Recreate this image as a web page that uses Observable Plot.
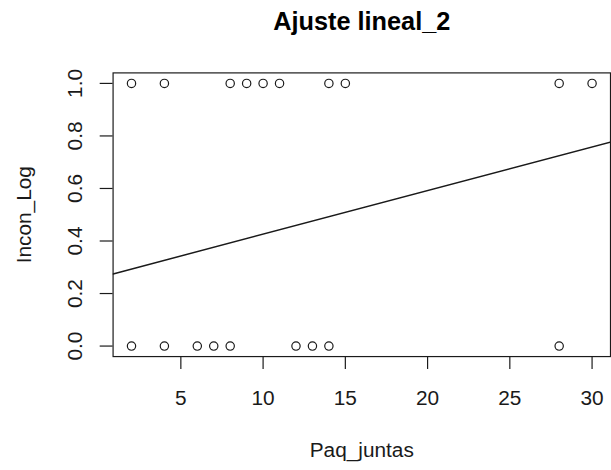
<!DOCTYPE html>
<html>
<head>
<meta charset="utf-8">
<script src="https://cdn.jsdelivr.net/npm/d3@7"></script>
<script src="https://cdn.jsdelivr.net/npm/@observablehq/plot@0.6"></script>
<style>
  html, body { margin: 0; padding: 0; background: #fff; overflow: hidden; }
  #chart { width: 611px; height: 470px; overflow: hidden; }
</style>
</head>
<body>
<div id="chart"></div>
<script>
// Data
const paqJuntas = [2, 4, 8, 9, 10, 11, 14, 15, 28, 30, 2, 4, 6, 7, 8, 12, 13, 14, 28];
const inconLog  = [1, 1, 1, 1, 1, 1, 1, 1, 1, 1, 0, 0, 0, 0, 0, 0, 0, 0, 0];
const fitIntercept = 0.26;
const fitSlope = 0.0166;
const xTicks = [5, 10, 15, 20, 25, 30];
const yTicks = [0, 0.2, 0.4, 0.6, 0.8, 1.0];
const yTickLabels = ["0.0", "0.2", "0.4", "0.6", "0.8", "1.0"];
const titleText = "Ajuste lineal_2";
const xLabel = "Paq_juntas";
const yLabel = "Incon_Log";

const points = paqJuntas.map((x, i) => ({x, y: inconLog[i]}));

// R-style 4% padded domains
const xMin = d3.min(paqJuntas), xMax = d3.max(paqJuntas);
const xPad = (xMax - xMin) * 0.04;
const xDomain = [xMin - xPad, xMax + xPad];
const yPad = (d3.max(inconLog) - d3.min(inconLog)) * 0.04;
const yDomain = [d3.min(inconLog) - yPad, d3.max(inconLog) + yPad];

const fitLine = xDomain.map(x => ({x, y: fitIntercept + fitSlope * x}));
const yTickData = yTicks.map((v, i) => ({v, label: yTickLabels[i]}));

const font = "Liberation Sans, Arial, Helvetica, sans-serif";
const ink = "#1a1a1a";

const chart = Plot.plot({
  width: 616,
  height: 470,
  marginLeft: 113.5,
  marginRight: 1,
  marginTop: 73,
  marginBottom: 111,
  style: {fontFamily: font, background: "#fff", color: ink, overflow: "visible"},
  x: {domain: xDomain},
  y: {domain: yDomain},
  marks: [
    Plot.line(fitLine, {x: "x", y: "y", stroke: ink, strokeWidth: 1.5, clip: true}),
    Plot.dot(points, {x: "x", y: "y", r: 4.2, stroke: ink, strokeWidth: 1.2, fill: "none"}),
    Plot.frame({stroke: ink, strokeWidth: 1.2}),
    Plot.axisX({ticks: xTicks, tickSize: 13, tickPadding: 21, fontSize: 21, label: null, stroke: ink, strokeWidth: 1.2, fill: ink}),
    Plot.axisY({ticks: yTicks, tickSize: 13, tickFormat: () => "", label: null, stroke: ink, strokeWidth: 1.2}),
    Plot.text(yTickData, {y: "v", text: "label", frameAnchor: "left", dx: -31.5, rotate: -90, textAnchor: "middle", lineAnchor: "bottom", fontSize: 21, fill: ink}),
    Plot.text([titleText], {text: d => d, frameAnchor: "top", dy: -43.5, lineAnchor: "bottom", fontSize: 25.5, fontWeight: "bold", fill: "#000"}),
    Plot.text([xLabel], {text: d => d, frameAnchor: "bottom", dy: 101, lineAnchor: "bottom", fontSize: 21, fill: ink}),
    Plot.text([yLabel], {text: d => d, frameAnchor: "left", dx: -82.5, rotate: -90, textAnchor: "middle", lineAnchor: "bottom", fontSize: 21, fill: ink})
  ]
});
document.getElementById("chart").appendChild(chart);
</script>
</body>
</html>
